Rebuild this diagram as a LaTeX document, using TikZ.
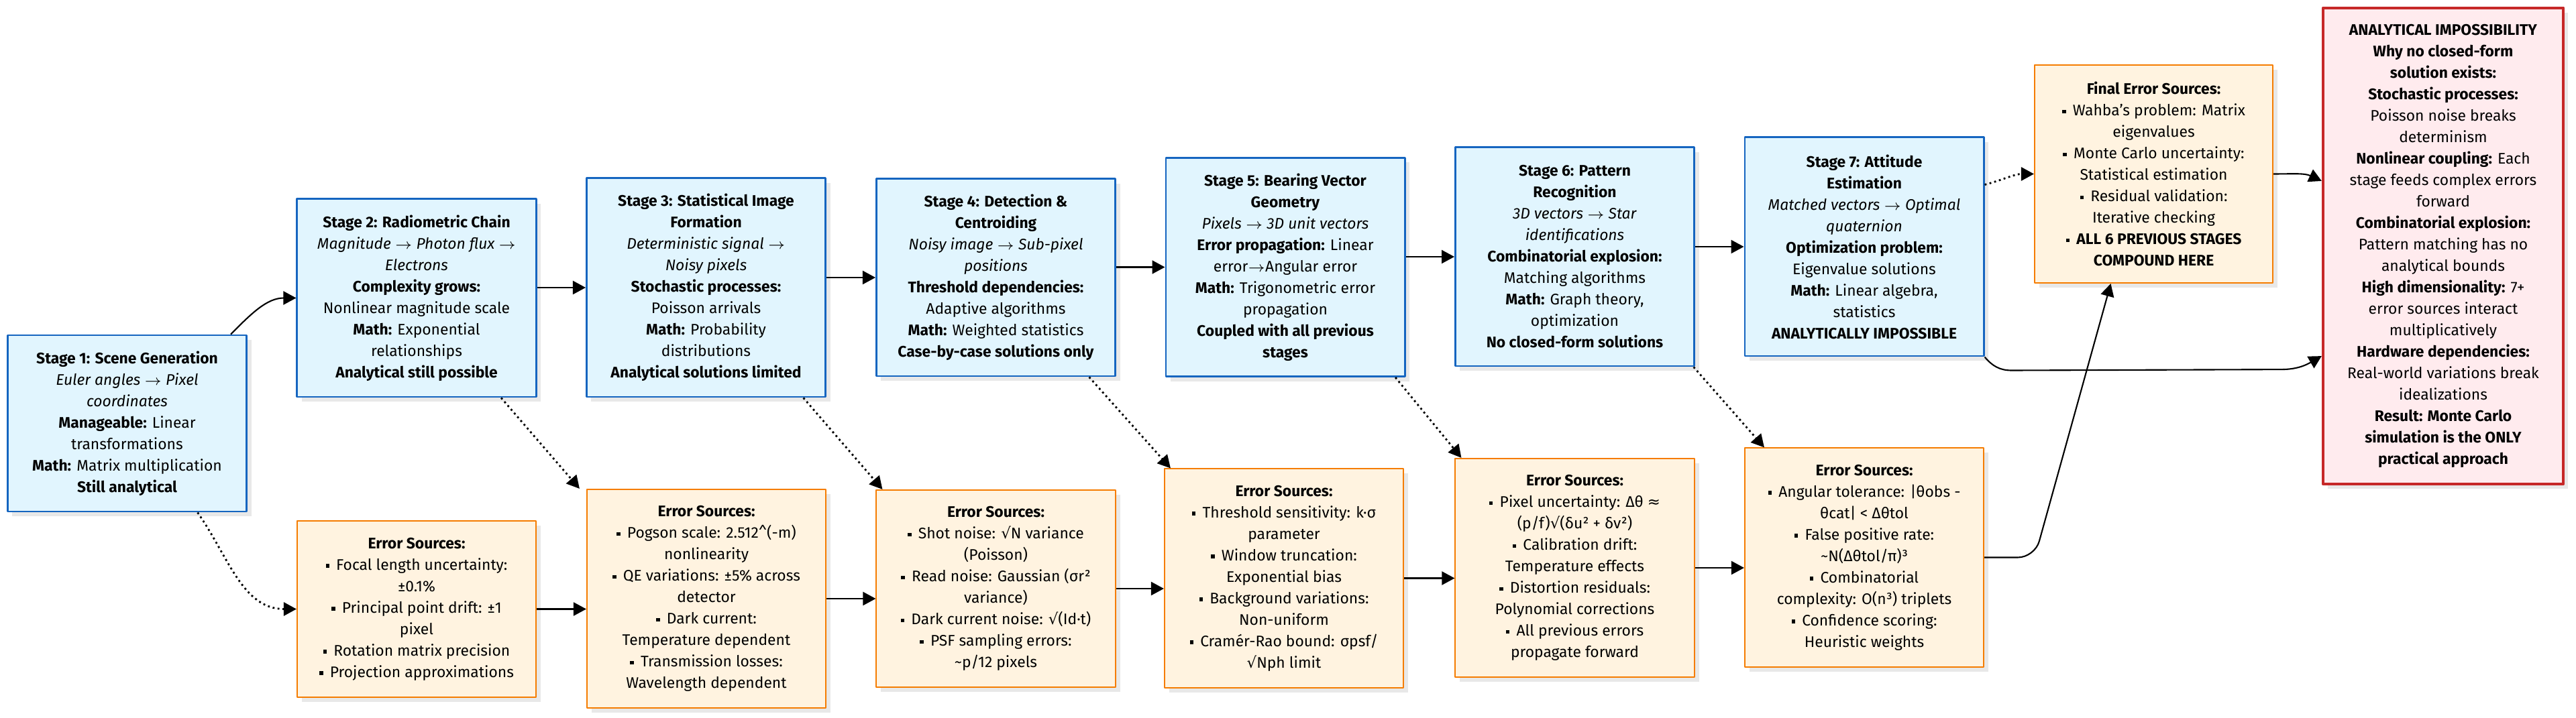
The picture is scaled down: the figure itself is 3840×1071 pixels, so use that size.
\documentclass[tikz,border=0pt]{standalone}
\usepackage{fontspec}
\setmainfont{Fira Sans}
\newfontfamily\symfont{DejaVu Sans}
\usepackage{tikz}
\usetikzlibrary{arrows.meta,shadows}
\definecolor{stagefill}{HTML}{E1F5FE}
\definecolor{stageline}{HTML}{1565C0}
\definecolor{errfill}{HTML}{FFF3E0}
\definecolor{errline}{HTML}{F57C00}
\definecolor{nogofill}{HTML}{FFEBEE}
\definecolor{nogoline}{HTML}{C62828}
\newcommand{\sq}{\rule[0.3ex]{0.45ex}{0.45ex}\hspace{0.45em}}
\newcommand{\rt}{{\symfont √}}
\newcommand{\boxfont}{\fontsize{6.5}{9.1}\selectfont}

\begin{document}
\begin{tikzpicture}[x=0.01cm,y=-0.01cm,line join=round,
  card/.style={align=center,font=\boxfont,minimum width=3.56cm,
    drop shadow={shadow xshift=0.07cm,shadow yshift=-0.07cm,fill=black!9,opacity=1}},
  stagebox/.style={card,draw=stageline,fill=stagefill,line width=0.8pt},
  errbox/.style={card,draw=errline,fill=errfill,line width=0.55pt},
  nogobox/.style={card,draw=nogoline,fill=nogofill,line width=1.2pt,minimum width=3.58cm},
  flow/.style={-{Triangle[length=0.19cm,width=0.2cm]},line width=0.6pt},
  dotflow/.style={flow,dash pattern=on 0.8pt off 1.3pt,line width=0.8pt}]
  \useasboundingbox (0,0) rectangle (3840,1071);

  % stages
  \node[stagebox,minimum height=2.63cm] (s1) at (189.5,631.5)
    {\textbf{Stage 1: Scene Generation}\\
     \textit{Euler angles $\to$ Pixel}\\
     \textit{coordinates}\\
     \textbf{Manageable:} Linear\\
     transformations\\
     \textbf{Math:} Matrix multiplication\\
     \textbf{Still analytical}};
  \node[stagebox,minimum height=2.95cm] (s2) at (621,444.5)
    {\textbf{Stage 2: Radiometric Chain}\\
     \textit{Magnitude $\to$ Photon flux $\to$}\\
     \textit{Electrons}\\
     \textbf{Complexity grows:}\\
     Nonlinear magnitude scale\\
     \textbf{Math:} Exponential\\
     relationships\\
     \textbf{Analytical still possible}};
  \node[stagebox,minimum height=3.26cm] (s3) at (1052.5,429)
    {\textbf{Stage 3: Statistical Image}\\
     \textbf{Formation}\\
     \textit{Deterministic signal $\to$}\\
     \textit{Noisy pixels}\\
     \textbf{Stochastic processes:}\\
     Poisson arrivals\\
     \textbf{Math:} Probability\\
     distributions\\
     \textbf{Analytical solutions limited}};
  \node[stagebox,minimum height=2.94cm] (s4) at (1484.5,414)
    {\textbf{Stage 4: Detection \&}\\
     \textbf{Centroiding}\\
     \textit{Noisy image $\to$ Sub-pixel}\\
     \textit{positions}\\
     \textbf{Threshold dependencies:}\\
     Adaptive algorithms\\
     \textbf{Math:} Weighted statistics\\
     \textbf{Case-by-case solutions only}};
  \node[stagebox,minimum height=3.26cm] (s5) at (1916,398.5)
    {\textbf{Stage 5: Bearing Vector}\\
     \textbf{Geometry}\\
     \textit{Pixels $\to$ 3D unit vectors}\\
     \textbf{Error propagation:} Linear\\
     error$\to$Angular error\\
     \textbf{Math:} Trigonometric error\\
     propagation\\
     \textbf{Coupled with all previous}\\
     \textbf{stages}};
  \node[stagebox,minimum height=3.26cm] (s6) at (2347.5,383)
    {\textbf{Stage 6: Pattern}\\
     \textbf{Recognition}\\
     \textit{3D vectors $\to$ Star}\\
     \textit{identifications}\\
     \textbf{Combinatorial explosion:}\\
     Matching algorithms\\
     \textbf{Math:} Graph theory,\\
     optimization\\
     \textbf{No closed-form solutions}};
  \node[stagebox,minimum height=3.26cm] (s7) at (2779,368)
    {\textbf{Stage 7: Attitude}\\
     \textbf{Estimation}\\
     \textit{Matched vectors $\to$ Optimal}\\
     \textit{quaternion}\\
     \textbf{Optimization problem:}\\
     Eigenvalue solutions\\
     \textbf{Math:} Linear algebra,\\
     statistics\\
     \textbf{ANALYTICALLY IMPOSSIBLE}};

  % error sources
  \node[errbox,minimum height=2.63cm] (e1) at (621,908.5)
    {\textbf{Error Sources:}\\
     \sq Focal length uncertainty:\\
     ±0.1\%\\
     \sq Principal point drift: ±1\\
     pixel\\
     \sq Rotation matrix precision\\
     \sq Projection approximations};
  \node[errbox,minimum height=3.26cm] (e2) at (1053,893)
    {\textbf{Error Sources:}\\
     \sq Pogson scale: 2.512\textasciicircum(-m)\\
     nonlinearity\\
     \sq QE variations: ±5\% across\\
     detector\\
     \sq Dark current:\\
     Temperature dependent\\
     \sq Transmission losses:\\
     Wavelength dependent};
  \node[errbox,minimum height=2.94cm] (e3) at (1484.5,878)
    {\textbf{Error Sources:}\\
     \sq Shot noise: \rt N variance\\
     (Poisson)\\
     \sq Read noise: Gaussian (σr²\\
     variance)\\
     \sq Dark current noise: \rt(Id·t)\\
     \sq PSF sampling errors:\\
     \textasciitilde p/12 pixels};
  \node[errbox,minimum height=3.26cm] (e4) at (1914,862.5)
    {\textbf{Error Sources:}\\
     \sq Threshold sensitivity: k·σ\\
     parameter\\
     \sq Window truncation:\\
     Exponential bias\\
     \sq Background variations:\\
     Non-uniform\\
     \sq Cramér-Rao bound: σpsf/\\
     \rt Nph limit};
  \node[errbox,minimum height=3.26cm] (e5) at (2347.5,847)
    {\textbf{Error Sources:}\\
     \sq Pixel uncertainty: Δθ {\symfont ≈}\\
     (p/f)\rt(δu² + δv²)\\
     \sq Calibration drift:\\
     Temperature effects\\
     \sq Distortion residuals:\\
     Polynomial corrections\\
     \sq All previous errors\\
     propagate forward};
  \node[errbox,minimum height=3.26cm] (e6) at (2779,831.5)
    {\textbf{Error Sources:}\\
     \sq Angular tolerance: |θobs -\\
     θcat| < Δθtol\\
     \sq False positive rate:\\
     \textasciitilde N(Δθtol/π)³\\
     \sq Combinatorial\\
     complexity: O(n³) triplets\\
     \sq Confidence scoring:\\
     Heuristic weights};
  \node[errbox,minimum height=3.25cm,minimum width=3.55cm] (final) at (3210.5,259.5)
    {\textbf{Final Error Sources:}\\
     \sq Wahba's problem: Matrix\\
     eigenvalues\\
     \sq Monte Carlo uncertainty:\\
     Statistical estimation\\
     \sq Residual validation:\\
     Iterative checking\\
     \sq \textbf{ALL 6 PREVIOUS STAGES}\\
     \textbf{COMPOUND HERE}};

  % why it cannot be solved
  \node[nogobox,minimum height=7.1cm] (nogo) at (3642,367)
    {\textbf{ANALYTICAL IMPOSSIBILITY}\\
     \textbf{Why no closed-form}\\
     \textbf{solution exists:}\\
     \textbf{Stochastic processes:}\\
     Poisson noise breaks\\
     determinism\\
     \textbf{Nonlinear coupling:} Each\\
     stage feeds complex errors\\
     forward\\
     \textbf{Combinatorial explosion:}\\
     Pattern matching has no\\
     analytical bounds\\
     \textbf{High dimensionality:} 7+\\
     error sources interact\\
     multiplicatively\\
     \textbf{Hardware dependencies:}\\
     Real-world variations break\\
     idealizations\\
     \textbf{Result: Monte Carlo}\\
     \textbf{simulation is the ONLY}\\
     \textbf{practical approach}};

  % main chain
  \draw[flow] ([xshift=-0.25cm]s1.north east) to[out=45,in=180] (s2.west);
  \foreach \a/\b in {s2/s3,s3/s4,s4/s5,s5/s6,s6/s7}
    \draw[flow] (\b.west -| \a.east) -- (\b.west);
  \foreach \a/\b in {e1/e2,e2/e3,e3/e4,e4/e5,e5/e6}
    \draw[flow] (\a.east) -- (\a.east -| \b.west);

  % stage -> its errors
  \draw[dotflow] ([xshift=1.05cm]s1.south) to[out=-55,in=180] (e1.west);
  \foreach \a/\b/\dx/\ex in {s2/e2/1.26/-0.1,s3/e3/1.45/0.1,s4/e4/1.39/0.1,
      s5/e5/1.64/0.1,s6/e6/1.77/0.3}
    \draw[dotflow] ([xshift=\dx cm]\a.south) -- ([xshift=\ex cm]\b.north west);

  % into the end boxes
  \draw[dotflow] ([yshift=-0.72cm]s7.north east) to[out=15,in=180] (final.west);
  \draw[flow,rounded corners=0.25cm] (e6.east) -- ([xshift=0.75cm]e6.east)
    -- ([xshift=-0.64cm]final.south);
  \draw[flow] (final.east) to[out=0,in=155] ([yshift=0.97cm]nogo.west);
  \draw[flow] (s7.south east) to[out=-50,in=180] ([xshift=0.4cm,yshift=-0.2cm]s7.south east)
    -- ([xshift=-0.6cm,yshift=-1.84cm]nogo.west) to[out=0,in=210] ([yshift=-1.64cm]nogo.west);
\end{tikzpicture}
\end{document}
